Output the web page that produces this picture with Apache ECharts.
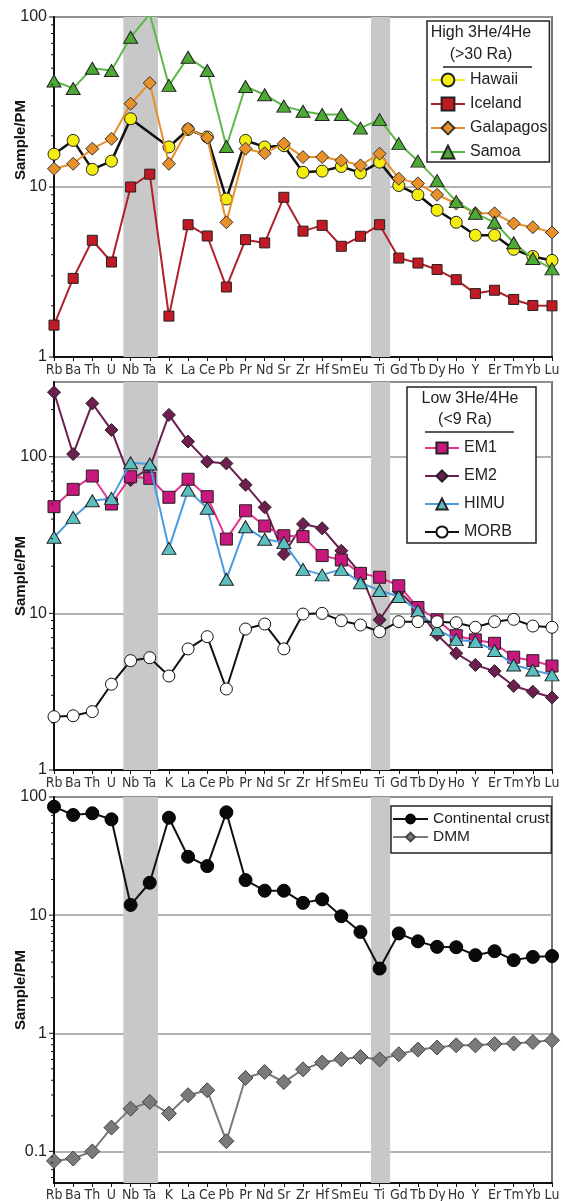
<!DOCTYPE html>
<html><head><meta charset="utf-8">
<script src="https://cdn.jsdelivr.net/npm/echarts/dist/echarts.min.js"></script>
<style>html,body{margin:0;padding:0;background:#fff}#c{width:563px;height:1201px}</style>
</head><body><div id="c"></div>
<script>
// ---- data ----
const elements = ['Rb','Ba','Th','U','Nb','Ta','K','La','Ce','Pb','Pr','Nd','Sr','Zr','Hf','Sm','Eu','Ti','Gd','Tb','Dy','Ho','Y','Er','Tm','Yb','Lu'];

const hawaii    = [15.6,18.8,12.7,14.2,25.2,null,17.2,21.8,19.7,8.5,18.8,17.2,17.5,12.2,12.4,13.2,12.1,14.0,10.2,9.0,7.3,6.2,5.2,5.2,4.3,3.9,3.7];
const iceland   = [1.54,2.9,4.86,3.62,10.0,11.9,1.74,6.0,5.15,2.58,4.9,4.69,8.7,5.5,5.95,4.48,5.13,6.0,3.82,3.57,3.27,2.85,2.36,2.47,2.18,2.01,2.0];
const galapagos = [12.8,13.7,16.8,19.2,30.9,40.9,13.7,22.0,19.5,6.2,16.8,15.8,18.0,15.0,15.0,14.3,13.4,15.7,11.2,10.5,9.0,8.0,7.0,7.0,6.1,5.8,5.4];
const samoa     = [42,38,50,48.5,76,104,39.6,58,48.5,17.3,39,34.9,29.9,27.9,26.7,26.7,22.2,24.9,18,14.2,10.9,8.2,7.0,6.2,4.7,3.8,3.3];

const em1  = [48,61.9,75.3,49.9,74.5,72.8,55.1,71.8,55.6,29.8,45.2,36.1,31.3,30.9,23.4,21.9,18.0,17.0,15.0,10.9,9.1,7.2,6.77,6.44,5.25,4.99,4.61];
const em2  = [258,104,219,148,71,85,185,125,93,90.6,66.2,47.5,23.9,37.2,34.9,25.1,18.0,9.1,13.8,10.6,7.3,5.56,4.68,4.28,3.44,3.16,2.9];
const himu = [30.6,41,52.4,54.2,91.6,89.8,26,61.2,46.9,16.5,35.7,29.7,28.3,19.1,17.6,19.1,15.7,14.0,12.8,10.4,7.9,6.8,6.6,5.8,4.68,4.35,4.05];
const morb = [2.19,2.22,2.36,3.53,4.99,5.21,3.98,5.93,7.1,3.29,7.94,8.55,5.93,9.9,10.0,8.98,8.43,7.64,8.85,8.85,8.85,8.72,8.15,8.85,9.16,8.3,8.15];

const crust = [82.8,70.4,72.8,64.7,12.2,18.8,66.8,31.2,26,74.2,19.8,16.1,16.1,12.7,13.6,9.8,7.2,3.53,7.0,6.0,5.39,5.35,4.58,4.95,4.16,4.43,4.5];
const dmm   = [0.083,0.087,0.1,0.159,0.23,0.262,0.209,0.299,0.329,0.122,0.418,0.47,0.386,0.495,0.565,0.603,0.63,0.6,0.664,0.727,0.757,0.79,0.79,0.81,0.82,0.843,0.873];

const yRanges = [[1,100],[1,300],[0.054,100]];
const decades = [[1,10,100],[1,10,100],[0.1,1,10,100]];
const bandNbTa = [3.62,5.43];
const bandTi = [16.55,17.55];

// ---- layout ----
const grids = [
  {left:54, top:17, width:498, height:340},
  {left:54, top:382, width:498, height:388},
  {left:54, top:797, width:498, height:386}
];
const FONT = "'Liberation Sans', Arial, sans-serif";
const NARROW = "'Liberation Sans Narrow', 'DejaVu Sans Condensed', 'Liberation Sans', sans-serif";

const decadeLabel = v => { const l = Math.log10(v); return Math.abs(l - Math.round(l)) < 1e-6 ? String(+v.toPrecision(3)) : ''; };

const xAxes = grids.map((g,i) => ({
  type:'value', gridIndex:i, min:0, max:elements.length-1, interval:1,
  axisLine:{lineStyle:{color:'#111', width:2}},
  axisTick:{show:true, length:4, lineStyle:{color:'#111', width:1}},
  axisLabel:{formatter:v => elements[v] || '', margin:i===2?5:6, fontSize:14, color:'#333', fontFamily:NARROW},
  splitLine:{show:false}
}));
const yAxes = grids.map((g,i) => ({
  type:'log', gridIndex:i, min:yRanges[i][0], max:yRanges[i][1], logBase:10,
  axisLine:{show:true, lineStyle:{color:'#111', width:2}},
  axisTick:{show:false},
  axisLabel:{formatter:decadeLabel, fontSize:16, color:'#222', fontFamily:FONT, margin:7},
  splitLine:{show:true, lineStyle:{color:'#999', width:1.5}},
  name:'Sample/PM', nameLocation:'middle', nameGap:26, nameMoveOverlap:false,
  nameTextStyle:{fontWeight:'bold', fontSize:15, color:'#111', fontFamily:FONT, padding: i===0 ? [0,0,0,94] : 0}
}));

function line(name, vals, gi, symbol, size, fill, lc, lw, border, z) {
  return {
    name, type:'line', xAxisIndex:gi, yAxisIndex:gi, z:z||2,
    data: vals.map((v,i) => [i, v]), connectNulls:true,
    symbol, symbolSize:size, showAllSymbol:true,
    itemStyle:{color:fill, borderColor:border||'#111', borderWidth:1},
    lineStyle:{color:lc, width:lw},
    emphasis:{disabled:true}, silent:true
  };
}
function ticks(gi, vals, len) {
  return {
    type:'custom', xAxisIndex:gi, yAxisIndex:gi, silent:true, clip:false, z:6,
    data: vals.map(v => [0, v]),
    renderItem:(params, api) => {
      const p = api.coord([0, api.value(1)]);
      return {type:'line', shape:{x1:p[0]-len, y1:p[1], x2:p[0]-1, y2:p[1]}, style:{stroke:'#111', lineWidth:1}};
    }
  };
}
function minorVals(r) {
  const out = [];
  for (let e = Math.floor(Math.log10(r[0])); e < Math.ceil(Math.log10(r[1])); e++) {
    for (let m = 2; m <= 9; m++) { const v = m * Math.pow(10, e); if (v > r[0] && v < r[1]) out.push(v); }
  }
  return out;
}
function bands(gi) {
  return {
    type:'line', xAxisIndex:gi, yAxisIndex:gi, data:[], silent:true,
    markArea:{silent:true, itemStyle:{color:'#c8c8c8'}, data:[
      [{xAxis:bandNbTa[0]},{xAxis:bandNbTa[1]}],
      [{xAxis:bandTi[0]},{xAxis:bandTi[1]}]
    ]}
  };
}

const series = [
  bands(0), bands(1), bands(2),
  line('Hawaii', hawaii, 0, 'circle', 12, '#f4ee10', '#111', 2.5, '#222', 3),
  line('Iceland', iceland, 0, 'rect', 10, '#c21a24', '#b02028', 2, '#222', 3),
  line('Galapagos', galapagos, 0, 'diamond', 13, '#e8902a', '#e8902a', 2, '#333', 4),
  line('Samoa', samoa, 0, 'triangle', [14,12], '#4caa34', '#5cb848', 2, '#222', 5),
  line('EM2', em2, 1, 'diamond', 13, '#6e1f50', '#6e1f50', 2, '#222', 3),
  line('EM1', em1, 1, 'rect', 12, '#c8187e', '#e2348e', 2, '#222', 4),
  line('HIMU', himu, 1, 'triangle', [14,12], '#5cbfbf', '#4a9be0', 2, '#222', 5),
  line('MORB', morb, 1, 'circle', 12, '#ffffff', '#111', 2, '#111', 6),
  line('Continental crust', crust, 2, 'circle', 13, '#0a0a0a', '#111', 2, '#000', 3),
  line('DMM', dmm, 2, 'diamond', 15, '#7a7a7a', '#7a7a7a', 2, '#444', 4)
];
[0,1,2].forEach(i => { series.push(ticks(i, decades[i], 5)); series.push(ticks(i, minorVals(yRanges[i]), 3)); });

const legendBase = {orient:'vertical', backgroundColor:'#fff', borderColor:'#222', borderWidth:1.5, borderRadius:0,
  textStyle:{fontSize:16, color:'#222', fontFamily:FONT}, selectedMode:false};
const legends = [
  Object.assign({}, legendBase, {left:427, top:21, padding:[51,2,2,3], itemWidth:34, itemHeight:16, itemGap:8,
    data:[{name:'Hawaii', lineStyle:{color:'#f4ee10'}}, 'Iceland', 'Galapagos', 'Samoa']}),
  Object.assign({}, legendBase, {left:407, top:387, padding:[53,24,3,17], itemWidth:34, itemHeight:14, itemGap:12,
    data:['EM1','EM2','HIMU','MORB']}),
  Object.assign({}, legendBase, {left:391, top:806, padding:[5,2,8,1], itemWidth:35, itemHeight:11, itemGap:2,
    textStyle:{fontSize:15.5, color:'#222', fontFamily:FONT},
    data:['Continental crust','DMM']})
];

function txt(t, x, y) {
  return {type:'text', z:100, style:{text:t, x, y, align:'center', textAlign:'center', verticalAlign:'middle', textVerticalAlign:'middle', fontSize:16, fontFamily:FONT, fill:'#222'}};
}
function rule(x1, x2, y) {
  return {type:'line', z:100, shape:{x1, y1:y, x2, y2:y}, style:{stroke:'#222', lineWidth:1.5}};
}

const option = {
  animation:false,
  grid: grids.map(g => Object.assign({show:true, borderColor:'#777', borderWidth:2, backgroundColor:'transparent', containLabel:false, outerBoundsMode:'none'}, g)),
  xAxis: xAxes, yAxis: yAxes, series, legend: legends,
  graphic: {elements:[
    txt('High 3He/4He', 481, 33), txt('(>30 Ra)', 481, 55), rule(443, 532, 67),
    txt('Low 3He/4He', 470, 399), txt('(<9 Ra)', 465, 420), rule(425, 514, 432)
  ]}
};
const chart = echarts.init(document.getElementById('c'), null, {renderer:'canvas'});
chart.setOption(option);
</script></body></html>
